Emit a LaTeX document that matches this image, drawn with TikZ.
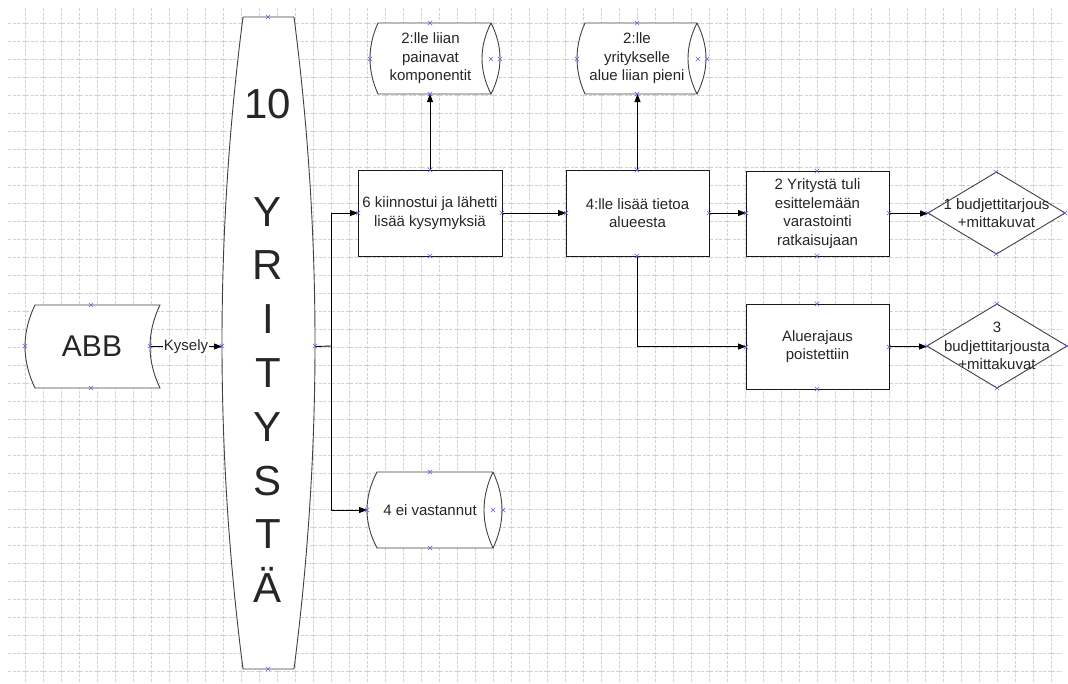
\documentclass[tikz,border=0pt]{standalone}
\usepackage{fontspec}
\setmainfont{Liberation Sans}
\usetikzlibrary{arrows.meta,calc}
\definecolor{mkblue}{RGB}{95,95,240}
\pgfdeclarelayer{gridl}
\pgfdeclarelayer{shapel}
\pgfsetlayers{gridl,shapel,main}
\tikzset{
  gridln/.style={gray!35, line width=0.7pt, dash pattern=on 3pt off 1.5pt},
  boxtxt/.style={font=\fontsize{15pt}{18.5pt}\selectfont, text=black!85, align=center},
  procbox/.style={rectangle, draw=black!90, fill=white, line width=0.9pt, inner sep=0pt, outer sep=0pt, boxtxt},
  frame/.style={rectangle, inner sep=0pt, outer sep=0pt, boxtxt},
  outline/.style={draw=black!75, fill=white, line width=0.9pt},
  conn/.style={draw=black, line width=0.9pt, -{Triangle[length=8pt,width=6pt]}},
  plainconn/.style={draw=black, line width=0.9pt},
  xmk/.style={draw=mkblue, line width=0.6pt},
  lbl/.style={fill=white, inner sep=1pt, boxtxt}
}
% storage shape outline: #1 node name, #2 left inset
\newcommand\storageshape[2]{%
  \draw[outline] ($(#1.north west)+(#2,0)$) -- (#1.north east)
    .. controls ($(#1.north east)!1/3!(#1.south east)+(12,0)$) and ($(#1.north east)!2/3!(#1.south east)+(12,0)$) .. (#1.south east)
    -- ($(#1.south west)+(#2,0)$)
    .. controls ($(#1.south west)!1/3!(#1.north west)+(#2-1.333*#2,0)$) and ($(#1.south west)!2/3!(#1.north west)+(#2-1.333*#2,0)$) .. cycle;
  \draw[outline, fill=none] (#1.north east)
    .. controls ($(#1.north east)!1/3!(#1.south east)+(-12,0)$) and ($(#1.north east)!2/3!(#1.south east)+(-12,0)$) .. (#1.south east);
}
\begin{document}
\begin{tikzpicture}[x=1pt,y=-1pt]
\useasboundingbox (0,0) rectangle (1068,683);
\begin{pgfonlayer}{gridl}
  \fill[white] (0,0) rectangle (1068,683);
  \foreach \i in {0,...,57} \draw[gridln] ({25+18*\i},8) -- ({25+18*\i},683);
  \foreach \j in {0,...,36} \draw[gridln] (8,{23+18*\j}) -- (1062,{23+18*\j});
\end{pgfonlayer}

% nodes
\node[frame, minimum width=125pt, minimum height=83pt] (abb) at (87.5,346.5) {};
\node[frame, font=\fontsize{30pt}{34pt}\selectfont] (abbtxt) at (92,346) {ABB};
\node[frame, minimum width=93pt, minimum height=652pt] (yr) at (268.5,343) {};
\node[frame, font=\fontsize{42pt}{53.8pt}\selectfont] (yrtxt) at (268,346)
  {10\\[53.8pt]Y\\R\\I\\T\\Y\\S\\T\\Ä};
\node[frame, minimum width=121pt, minimum height=71pt] (s1) at (430.5,58.5) {2:lle liian\\painavat\\komponentit};
\node[frame, minimum width=120pt, minimum height=71pt] (s2) at (637,58.5) {2:lle\\yritykselle\\alue liian pieni};
\node[frame, minimum width=126pt, minimum height=76pt] (s3) at (430,510) {4 ei vastannut};
\node[procbox, minimum width=144pt, minimum height=86pt] (b1) at (430,213) {6 kiinnostui ja lähetti\\lisää kysymyksiä};
\node[procbox, minimum width=143pt, minimum height=86pt] (b2) at (637.5,213) {4:lle lisää tietoa\\alueesta};
\node[procbox, minimum width=143pt, minimum height=85pt] (b3) at (817.5,213.5) {2 Yritystä tuli\\esittelemään\\varastointi\\ratkaisujaan};
\node[procbox, minimum width=143pt, minimum height=85pt] (b4) at (817.5,346.5) {Aluerajaus\\poistettiin};
\node[frame, minimum width=137pt, minimum height=82pt] (d1) at (996.5,213) {1 budjettitarjous\\+mittakuvat};
\node[frame, minimum width=140pt, minimum height=84pt] (d2) at (997,346) {3\\budjettitarjousta\\+mittakuvat};

% outlines
\begin{pgfonlayer}{shapel}
  \draw[outline] ($(abb.north west)+(10,0)$) -- ($(abb.north east)+(10,0)$)
    .. controls ($(abb.north east)!1/3!(abb.south east)+(-3.3,0)$) and ($(abb.north east)!2/3!(abb.south east)+(-3.3,0)$) .. ($(abb.south east)+(10,0)$)
    -- ($(abb.south west)+(10,0)$)
    .. controls ($(abb.south west)!1/3!(abb.north west)+(-3.3,0)$) and ($(abb.south west)!2/3!(abb.north west)+(-3.3,0)$) .. cycle;
  \draw[outline] ($(yr.north west)+(21,0)$) -- ($(yr.north east)+(-21,0)$)
    .. controls ($(yr.north east)!1/3!(yr.south east)+(7,0)$) and ($(yr.north east)!2/3!(yr.south east)+(7,0)$) .. ($(yr.south east)+(-21,0)$)
    -- ($(yr.south west)+(21,0)$)
    .. controls ($(yr.south west)!1/3!(yr.north west)+(-7,0)$) and ($(yr.south west)!2/3!(yr.north west)+(-7,0)$) .. cycle;
  \storageshape{s1}{8}
  \storageshape{s2}{8}
  \storageshape{s3}{10}
  \draw[outline] (d1.west) -- (d1.north) -- (d1.east) -- (d1.south) -- cycle;
  \draw[outline] (d2.west) -- (d2.north) -- (d2.east) -- (d2.south) -- cycle;
\end{pgfonlayer}

% connectors
\coordinate (yrL) at (yr.west |- abb.east);
\coordinate (yrR) at (yr.east |- abb.east);
\coordinate (jn) at (331,346);
\draw[conn] (abb.east) -- node[lbl] (kys) {Kysely} (yrL);
\draw[plainconn] (yrR) -- (jn);
\draw[conn] (jn) |- (b1.west);
\draw[conn] (jn) |- (s3.west);
\draw[conn] (b1.north) -- (b1.north |- s1.south);
\draw[conn] (b1.east) -- (b1.east -| b2.west);
\draw[conn] (b2.north) -- (b2.north |- s2.south);
\draw[conn] (b2.east) -- (b2.east -| b3.west);
\draw[conn] (b2.south) |- (b4.west);
\draw[conn] (b3.east) -- (b3.east -| d1.west);
\draw[conn] (b4.east) -- (b4.east -| d2.west);

% connection point markers
\foreach \p in {(91,305),(91,388),(25,346),(150,346),
  (268,17),(268,669),(222,346),(315,346),
  (430,170),(430,256),(358,213),(502,213),
  (430,23),(430,94),(370,59),(491,59),(500,59),
  (637,23),(637,94),(577,59),(698,59),(707,59),
  (637,170),(637,256),(566,213),(709,213),
  (817,171),(817,256),(746,213),(889,213),
  (996,172),(996,254),(928,213),(1065,213),
  (817,304),(817,389),(746,347),(889,347),
  (997,304),(997,388),(927,346),(1067,346),
  (430,472),(430,548),(367,510),(493,510),(503,510)}
  \draw[xmk] \p +(-2.2,-2.2) -- +(2.2,2.2) +(-2.2,2.2) -- +(2.2,-2.2);
\end{tikzpicture}
\end{document}
